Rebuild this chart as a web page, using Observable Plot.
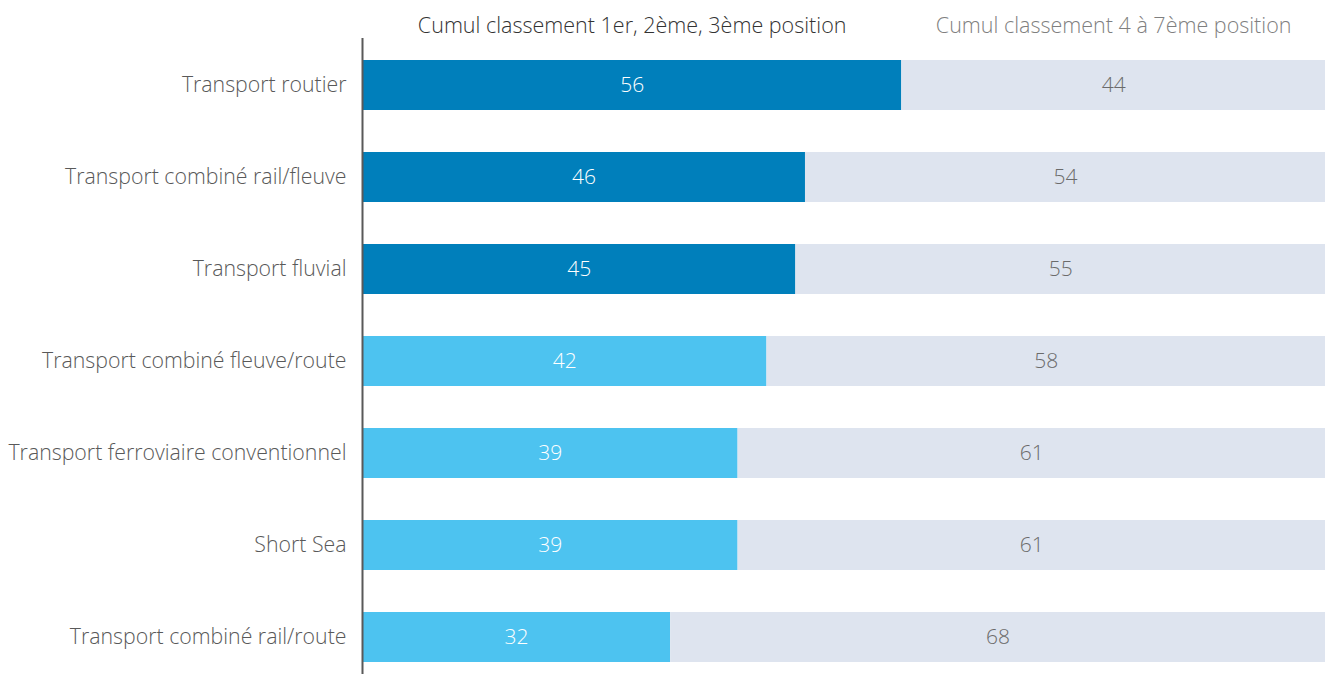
<!DOCTYPE html>
<html>
<head>
<meta charset="utf-8">
<script src="https://cdn.jsdelivr.net/npm/d3@7"></script>
<script src="https://cdn.jsdelivr.net/npm/@observablehq/plot@0.6"></script>
<style>
  body { margin: 0; background: #fff; }
  #chart svg { font-family: "Open Sans", sans-serif; }
</style>
</head>
<body>
<div id="chart"></div>
<script>
const categories = [
  "Transport routier",
  "Transport combiné rail/fleuve",
  "Transport fluvial",
  "Transport combiné fleuve/route",
  "Transport ferroviaire conventionnel",
  "Short Sea",
  "Transport combiné rail/route"
];
const top3 = [56, 46, 45, 42, 39, 39, 32];
const rest = [44, 54, 55, 58, 61, 61, 68];
const tier = ["high", "high", "high", "low", "low", "low", "low"];
const seriesNames = ["Cumul classement 1er, 2ème, 3ème position", "Cumul classement 4 à 7ème position"];

const data = [];
categories.forEach((c, i) => {
  data.push({category: c, series: seriesNames[0], value: top3[i], key: tier[i]});
  data.push({category: c, series: seriesNames[1], value: rest[i], key: "rest"});
});
const firstRow = data.filter(d => d.category === categories[0]);

const chart = Plot.plot({
  width: 1333,
  height: 674,
  marginLeft: 362,
  marginRight: 8,
  marginTop: 38,
  marginBottom: 0,
  style: {fontFamily: "'Open Sans', sans-serif", fontWeight: 300},
  x: {domain: [0, 100], axis: null},
  y: {
    domain: categories,
    range: [39, 683],
    paddingInner: 0.457,
    paddingOuter: 0.2285,
    label: null,
    tickSize: 0,
    tickPadding: 16,
    fontSize: 21
  },
  color: {domain: ["high", "low", "rest"], range: ["#007fbb", "#4dc3f0", "#dee4ef"]},
  marks: [
    Plot.barX(data, Plot.stackX({x: "value", y: "category", fill: "key", order: null})),
    Plot.text(data, Plot.stackX({
      x: "value", y: "category", text: "value", order: null,
      fill: d => d.key === "rest" ? "#6b6b6b" : "#ffffff",
      fontSize: 21, fontWeight: 300
    })),
    Plot.text(firstRow, Plot.stackX({
      x: "value", y: "category", text: "series", order: null,
      dy: -59, fontSize: 21.5,
      fill: d => d.key === "rest" ? "#7f7f7f" : "#333333",
      fontWeight: d => d.key === "rest" ? 300 : 400
    })),
    Plot.ruleX([0], {stroke: "#595959", strokeWidth: 2})
  ]
});
chart.querySelectorAll("g[aria-label='y-axis tick label']").forEach(g => {
  g.setAttribute("fill", "#595959");
  g.setAttribute("font-size", 21.3);
  g.setAttribute("font-weight", 300);
});
document.getElementById("chart").append(chart);
</script>
</body>
</html>
